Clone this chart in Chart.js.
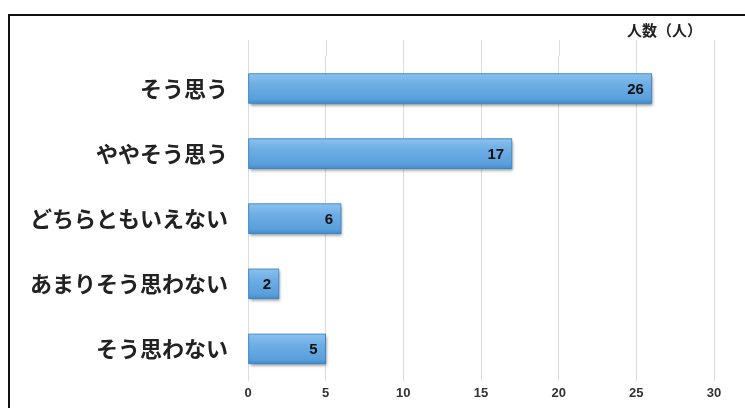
<!DOCTYPE html>
<html><head><meta charset="utf-8">
<script src="https://cdn.jsdelivr.net/npm/chart.js@4/dist/chart.umd.min.js"></script>
<style>html,body{margin:0;padding:0;background:#fff;}#wrap{width:745px;height:408px;position:relative;}</style>
</head><body><div id="wrap"><canvas id="c" width="745" height="408"></canvas></div>
<script>
const categories = ['そう思う','ややそう思う','どちらともいえない','あまりそう思わない','そう思わない'];
const counts = [26, 17, 6, 2, 5];
const xTicks = [0, 5, 10, 15, 20, 25, 30];
const axisTitle = '人数（人）';

const JP = '"Noto Sans CJK JP", "Noto Sans", sans-serif';
const LAT = '"Liberation Sans", Arial, sans-serif';
const BAR_T = 30;

const frame = {
  id: 'frame',
  beforeDraw(chart) {
    const c = chart.ctx;
    c.save();
    c.fillStyle = '#fff';
    c.fillRect(0, 0, chart.width, chart.height);
    c.strokeStyle = '#111';
    c.lineWidth = 2;
    c.beginPath();
    c.moveTo(9, chart.height);
    c.lineTo(9, 15);
    c.lineTo(chart.width, 15);
    c.stroke();
    const xs = chart.scales.x;
    c.strokeStyle = '#dcdcdc';
    c.lineWidth = 1;
    xTicks.forEach(v => {
      const px = Math.round(xs.getPixelForValue(v)) + 0.5;
      c.beginPath();
      c.moveTo(px, 40);
      c.lineTo(px, chart.chartArea.top);
      c.stroke();
    });
    c.fillStyle = '#222';
    c.font = 'bold 15px ' + JP;
    c.textAlign = 'right';
    c.textBaseline = 'middle';
    c.fillText(axisTitle, 702, 30);
    c.restore();
  },
  beforeDatasetsDraw(chart) {
    const c = chart.ctx;
    const meta = chart.getDatasetMeta(0);
    c.save();
    c.shadowColor = 'rgba(0,0,0,0.45)';
    c.shadowBlur = 3;
    c.shadowOffsetX = 1;
    c.shadowOffsetY = 2;
    c.fillStyle = '#4a90cc';
    meta.data.forEach(bar => {
      const p = bar.getProps(['x','y','base','height']);
      c.fillRect(p.base, p.y - p.height/2, p.x - p.base, p.height);
    });
    c.restore();
  },
  afterDatasetsDraw(chart) {
    const c = chart.ctx;
    c.save();
    const meta = chart.getDatasetMeta(0);
    c.fillStyle = '#111';
    c.font = 'bold 15px ' + LAT;
    c.textAlign = 'right';
    c.textBaseline = 'middle';
    meta.data.forEach((bar, i) => {
      c.fillText(String(counts[i]), bar.x - 8, bar.y + 1);
    });
    c.restore();
  }
};

new Chart(document.getElementById('c'), {
  type: 'bar',
  data: {
    labels: categories,
    datasets: [{
      data: counts,
      backgroundColor: (ctx) => {
        const chart = ctx.chart;
        const ys = chart.scales && chart.scales.y;
        if (!ys) return '#66a7de';
        const y = ys.getPixelForValue(ctx.dataIndex);
        if (!Number.isFinite(y)) return '#66a7de';
        const h = BAR_T;
        const g = chart.ctx.createLinearGradient(0, y - h/2, 0, y + h/2);
        g.addColorStop(0, '#8cc2ee');
        g.addColorStop(0.35, '#6eaee5');
        g.addColorStop(0.85, '#5a9fdb');
        g.addColorStop(1, '#3f8ccd');
        return g;
      },
      borderColor: '#3a86c6',
      borderWidth: 1,
      borderSkipped: false,
      barThickness: BAR_T
    }]
  },
  options: {
    indexAxis: 'y',
    responsive: false,
    animation: false,
    devicePixelRatio: 1,
    layout: { padding: { top: 56, right: 31, bottom: 3, left: 0 } },
    plugins: { legend: { display: false }, tooltip: { enabled: false } },
    scales: {
      x: {
        min: 0, max: 30,
        afterBuildTicks(scale) { scale.ticks = xTicks.map(v => ({ value: v })); },
        grid: { color: '#dcdcdc', lineWidth: 1, drawTicks: false },
        border: { display: false },
        ticks: { color: '#333', font: { family: LAT, size: 13, weight: 'bold' }, padding: 4 }
      },
      y: {
        afterFit(scale) { scale.width = 248; },
        grid: { display: false },
        border: { display: false },
        ticks: { color: '#222', font: { family: JP, size: 22, weight: 'bold' }, padding: 12 }
      }
    }
  },
  plugins: [frame]
});
</script></body></html>
